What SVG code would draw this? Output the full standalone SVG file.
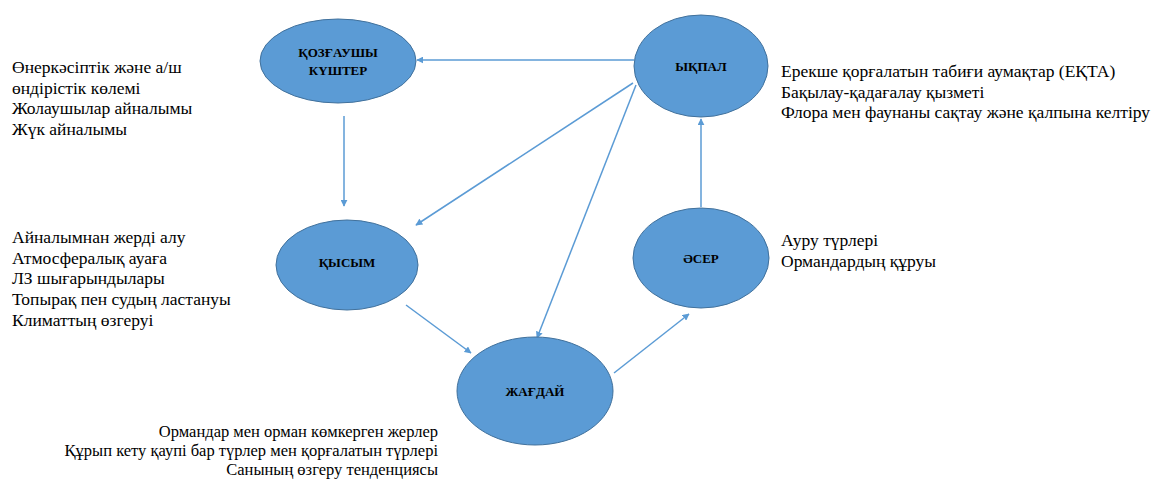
<svg xmlns="http://www.w3.org/2000/svg" width="1153" height="480" viewBox="0 0 1153 480">
<style>
.node{fill:#5B9BD5;stroke:#41719C;stroke-width:1}
.lbl{font-family:'Liberation Serif','Times New Roman',serif;font-size:13px;font-weight:bold;fill:#000;text-anchor:middle}
.txt{font-family:'Liberation Serif','Times New Roman',serif;font-size:17.5px;fill:#000}
.txt-s{font-family:'Liberation Serif','Times New Roman',serif;font-size:16.5px;fill:#000;text-anchor:end}
.edge{stroke:#5B9BD5;stroke-width:1.5;fill:none;marker-end:url(#ah)}
</style>
<defs>
<marker id="ah" viewBox="0 0 10 10" refX="9" refY="5" markerWidth="7" markerHeight="7" orient="auto" markerUnits="userSpaceOnUse">
<path d="M0,0 L10,5 L0,10 z" fill="#5B9BD5"/>
</marker>
</defs>
<rect width="1153" height="480" fill="#fff"/>
<g id="connectors">
<line class="edge" x1="634" y1="60" x2="417" y2="60"/>
<line class="edge" x1="344" y1="116" x2="344" y2="206"/>
<line class="edge" x1="633" y1="83" x2="416" y2="225"/>
<line class="edge" x1="636" y1="85" x2="537" y2="338"/>
<line class="edge" x1="406" y1="305" x2="471" y2="353"/>
<line class="edge" x1="614" y1="373" x2="689" y2="314"/>
<line class="edge" x1="701" y1="207" x2="701" y2="119"/>
</g>
<g id="node-kozgaushy">
<ellipse class="node" cx="338" cy="61" rx="78" ry="42"/>
<text class="lbl" x="338" y="57">ҚОЗҒАУШЫ</text>
<text class="lbl" x="338" y="75">КҮШТЕР</text>
</g>
<g id="node-ykpal">
<ellipse class="node" cx="701" cy="66" rx="67" ry="51"/>
<text class="lbl" x="701" y="71">ЫҚПАЛ</text>
</g>
<g id="node-kysym">
<ellipse class="node" cx="347" cy="265" rx="71" ry="45"/>
<text class="lbl" x="347" y="267">ҚЫСЫМ</text>
</g>
<g id="node-aser">
<ellipse class="node" cx="701" cy="258" rx="68" ry="50"/>
<text class="lbl" x="701" y="263">ӘСЕР</text>
</g>
<g id="node-zhagday">
<ellipse class="node" cx="535" cy="391" rx="78" ry="54"/>
<text class="lbl" x="535" y="396">ЖАҒДАЙ</text>
</g>
<g id="text-drivers">
<text class="txt" x="12" y="73">Өнеркәсіптік және а/ш</text>
<text class="txt" x="12" y="94">өндірістік көлемі</text>
<text class="txt" x="12" y="114">Жолаушылар айналымы</text>
<text class="txt" x="12" y="135">Жүк айналымы</text>
</g>
<g id="text-response">
<text class="txt" x="781" y="77">Ерекше қорғалатын табиғи аумақтар (ЕҚТА)</text>
<text class="txt" x="781" y="98">Бақылау-қадағалау қызметі</text>
<text class="txt" x="781" y="118">Флора мен фаунаны сақтау және қалпына келтіру</text>
</g>
<g id="text-pressure">
<text class="txt" x="12" y="243">Айналымнан жерді алу</text>
<text class="txt" x="12" y="264">Атмосфералық ауаға</text>
<text class="txt" x="12" y="284">ЛЗ шығарындылары</text>
<text class="txt" x="12" y="305">Топырақ пен судың ластануы</text>
<text class="txt" x="12" y="326">Климаттың өзгеруі</text>
</g>
<g id="text-impact">
<text class="txt" x="781" y="246">Ауру түрлері</text>
<text class="txt" x="781" y="267">Ормандардың құруы</text>
</g>
<g id="text-state">
<text class="txt-s" x="438" y="437">Ормандар мен орман көмкерген жерлер</text>
<text class="txt-s" x="438" y="456">Құрып кету қаупі бар түрлер мен қорғалатын түрлері</text>
<text class="txt-s" x="438" y="475">Санының өзгеру тенденциясы</text>
</g>
</svg>
